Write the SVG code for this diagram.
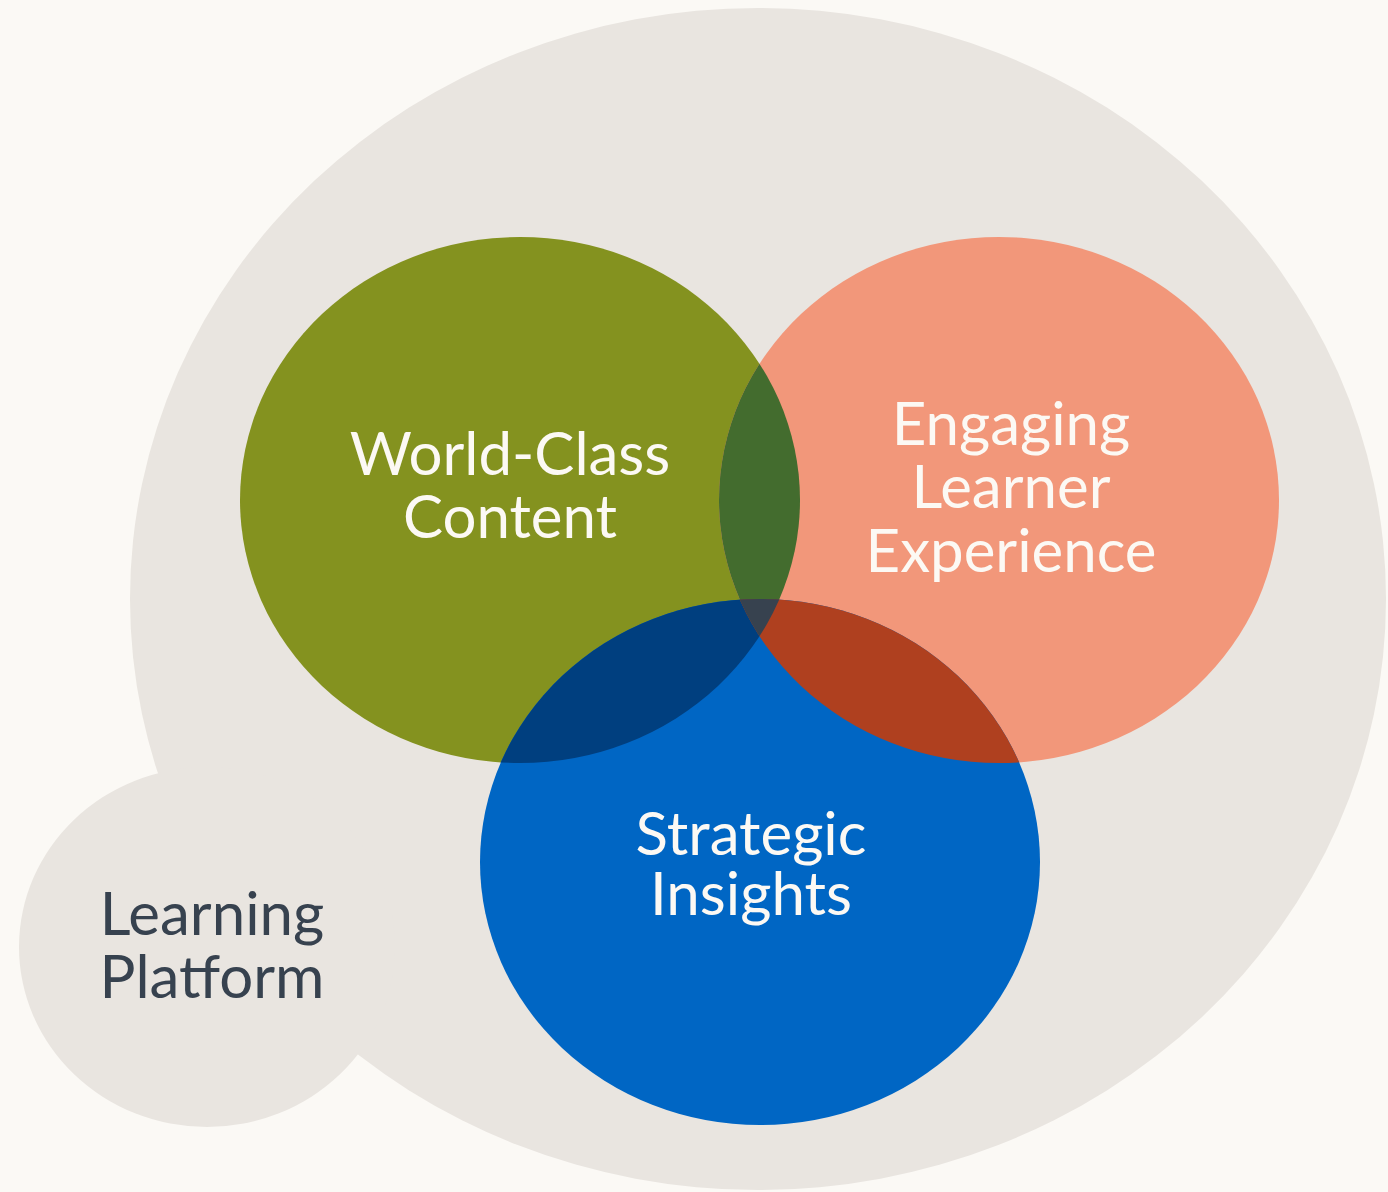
<svg xmlns="http://www.w3.org/2000/svg" width="1388" height="1192" viewBox="0 0 1388 1192">
<style>
.lbl{font-family:"Lato","Open Sans","Liberation Sans",sans-serif;font-size:60px;text-anchor:middle;fill:#FCF9F4}
.dark{fill:#37424F}
</style>
<defs>
<clipPath id="cg"><ellipse cx="520" cy="500" rx="280" ry="263"/></clipPath>
<clipPath id="cs"><ellipse cx="999" cy="500" rx="280" ry="263"/></clipPath>
</defs>
<rect width="1388" height="1192" fill="#FBF9F5"/>
<g id="platform">
<ellipse cx="758" cy="599" rx="628" ry="591" fill="#E9E5E0"/>
<ellipse cx="207" cy="947" rx="188" ry="180" fill="#E9E5E0"/>
<text class="lbl dark" x="212" y="935">Learning</text>
<text class="lbl dark" x="212" y="998">Platform</text>
</g>
<g id="content">
<ellipse cx="520" cy="500" rx="280" ry="263" fill="#84921F"/>
</g>
<g id="experience">
<ellipse cx="999" cy="500" rx="280" ry="263" fill="#F2977A"/>
</g>
<g id="insights">
<ellipse cx="760" cy="862" rx="280" ry="263" fill="#0066C4"/>
</g>
<g id="overlaps">
<ellipse cx="999" cy="500" rx="280" ry="263" fill="#436C2E" clip-path="url(#cg)"/>
<ellipse cx="760" cy="862" rx="280" ry="263" fill="#003F7F" clip-path="url(#cg)"/>
<ellipse cx="760" cy="862" rx="280" ry="263" fill="#AF401F" clip-path="url(#cs)"/>
<g clip-path="url(#cg)"><ellipse cx="760" cy="862" rx="280" ry="263" fill="#37424F" clip-path="url(#cs)"/></g>
</g>
<g id="labels">
<text class="lbl" x="510" y="475">World-Class</text>
<text class="lbl" x="510" y="538">Content</text>
<text class="lbl" x="1011" y="445">Engaging</text>
<text class="lbl" x="1011" y="508">Learner</text>
<text class="lbl" x="1011" y="572">Experience</text>
<text class="lbl" x="751" y="855">Strategic</text>
<text class="lbl" x="751" y="915">Insights</text>
</g>
</svg>
